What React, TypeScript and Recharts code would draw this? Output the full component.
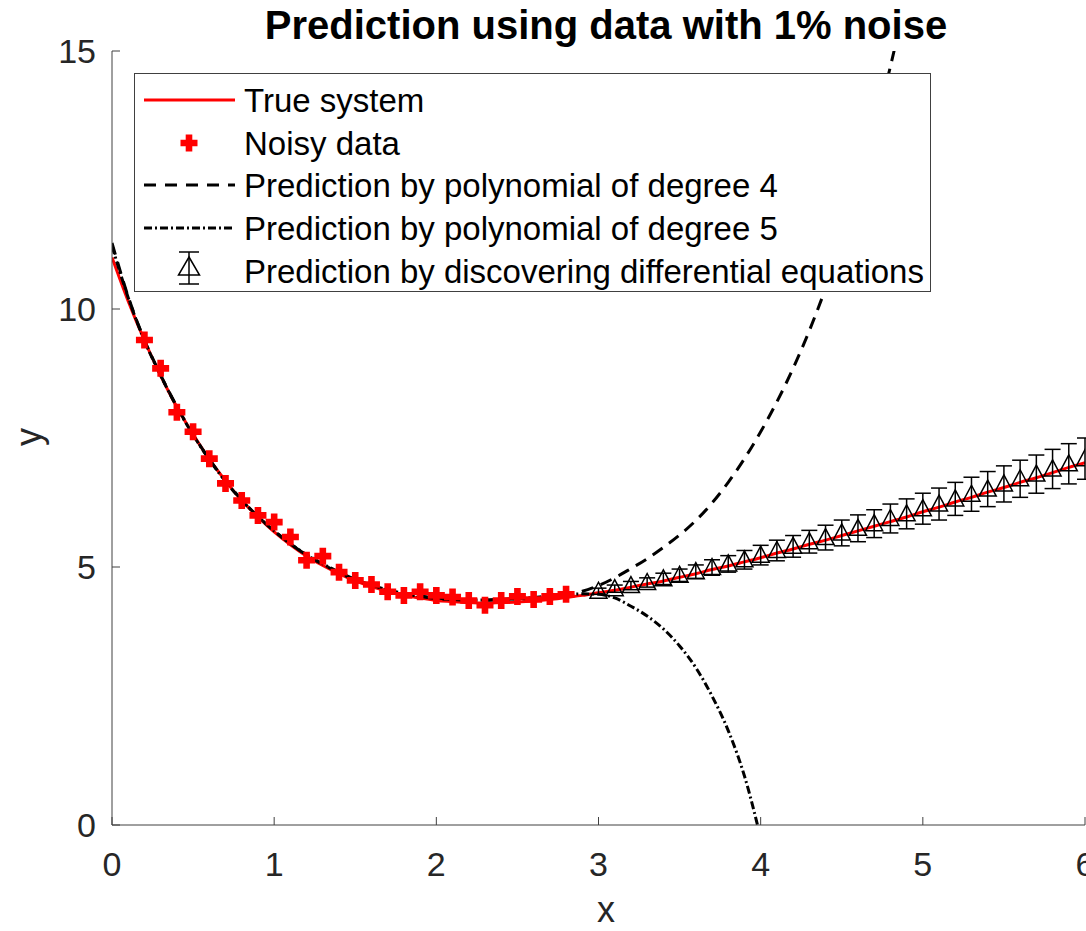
import React from 'react';
import { ComposedChart, Line, Scatter, ErrorBar, XAxis, YAxis } from 'recharts';

const FONT = '"Liberation Sans", Arial, Helvetica, sans-serif';

// x grid, 0 to 6 in steps of 0.1
const xGrid = [
  0, 0.1, 0.2, 0.3, 0.4, 0.5, 0.6, 0.7, 0.8, 0.9,
  1, 1.1, 1.2, 1.3, 1.4, 1.5, 1.6, 1.7, 1.8, 1.9,
  2, 2.1, 2.2, 2.3, 2.4, 2.5, 2.6, 2.7, 2.8, 2.9,
  3, 3.1, 3.2, 3.3, 3.4, 3.5, 3.6, 3.7, 3.8, 3.9,
  4, 4.1, 4.2, 4.3, 4.4, 4.5, 4.6, 4.7, 4.8, 4.9,
  5, 5.1, 5.2, 5.3, 5.4, 5.5, 5.6, 5.7, 5.8, 5.9,
  6,
];

const trueSystem = [
  11.0, 10.15, 9.39, 8.71, 8.1, 7.57, 7.09, 6.67, 6.29, 5.97,
  5.68, 5.43, 5.21, 5.03, 4.87, 4.73, 4.62, 4.53, 4.45, 4.4,
  4.35, 4.33, 4.31, 4.3, 4.31, 4.32, 4.34, 4.37, 4.41, 4.45,
  4.5, 4.55, 4.61, 4.67, 4.73, 4.8, 4.87, 4.95, 5.02, 5.1,
  5.18, 5.27, 5.35, 5.44, 5.52, 5.61, 5.7, 5.79, 5.88, 5.97,
  6.07, 6.16, 6.26, 6.35, 6.45, 6.54, 6.64, 6.73, 6.83, 6.93,
  7.02,
];

// noisy samples at x = 0.2 .. 2.8
const noisyX = xGrid.slice(2, 29);
const noisyY = [
  9.4, 8.85, 8.0, 7.62, 7.1, 6.62, 6.29, 6.0, 5.87, 5.58,
  5.13, 5.21, 4.9, 4.74, 4.66, 4.52, 4.45, 4.52, 4.45, 4.42,
  4.35, 4.26, 4.35, 4.43, 4.37, 4.43, 4.47,
];

// polynomial degree 4, x = 0 .. 4.9
const poly4X = xGrid.slice(0, 50);
const poly4Y = [
  11.28, 10.24, 9.4, 8.72, 8.11, 7.57, 7.09, 6.67, 6.3, 5.98,
  5.7, 5.45, 5.23, 5.05, 4.89, 4.75, 4.64, 4.55, 4.48, 4.43,
  4.39, 4.37, 4.36, 4.36, 4.37, 4.38, 4.4, 4.43, 4.46, 4.53,
  4.64, 4.79, 4.97, 5.16, 5.38, 5.62, 5.9, 6.24, 6.64, 7.1,
  7.62, 8.2, 8.85, 9.58, 10.4, 11.32, 12.33, 13.45, 14.7, 16.08,
];

// polynomial degree 5, x = 0 .. 4.0
const poly5X = xGrid.slice(0, 41);
const poly5Y = [
  11.22, 10.22, 9.39, 8.71, 8.1, 7.56, 7.08, 6.66, 6.29, 5.98,
  5.7, 5.45, 5.24, 5.06, 4.9, 4.76, 4.65, 4.56, 4.49, 4.44,
  4.4, 4.37, 4.36, 4.36, 4.37, 4.39, 4.41, 4.44, 4.46, 4.48,
  4.47, 4.4, 4.24, 4.05, 3.8, 3.47, 3.05, 2.5, 1.83, 0.95,
  -0.25,
];

// discovered differential equation, x = 3.0 .. 6.0
const deX = xGrid.slice(30);
const dePred = [
  4.53, 4.58, 4.64, 4.7, 4.77, 4.84, 4.91, 4.99, 5.06, 5.14,
  5.23, 5.32, 5.4, 5.49, 5.57, 5.66, 5.75, 5.84, 5.94, 6.03,
  6.13, 6.22, 6.32, 6.41, 6.51, 6.61, 6.71, 6.8, 6.9, 7.0,
  7.1,
];
const deErr = [
  0.06, 0.07, 0.08, 0.09, 0.11, 0.12, 0.13, 0.15, 0.16, 0.18,
  0.19, 0.2, 0.21, 0.22, 0.24, 0.25, 0.26, 0.27, 0.28, 0.29,
  0.3, 0.31, 0.32, 0.33, 0.34, 0.35, 0.36, 0.37, 0.38, 0.39,
  0.4,
];

const xTicks = [0, 1, 2, 3, 4, 5, 6];
const yTicks = [0, 5, 10, 15];

const trueData = xGrid.map((x, i) => ({ x, y: trueSystem[i] }));
const noisyData = noisyX.map((x, i) => ({ x, y: noisyY[i] }));
const poly4Data = poly4X.map((x, i) => ({ x, y: poly4Y[i] }));
const poly5Data = poly5X.map((x, i) => ({ x, y: poly5Y[i] }));
const deData = deX.map((x, i) => ({ x, y: dePred[i], err: deErr[i] }));

const plusPath = (cx: number, cy: number, a: number, t: number) =>
  `M${cx - t},${cy - a}h${2 * t}v${a - t}h${a - t}v${2 * t}h${-(a - t)}v${a - t}h${-2 * t}v${-(a - t)}h${-(a - t)}v${-2 * t}h${a - t}z`;

const PlusMarker = (props: any) => {
  const { cx, cy } = props;
  if (cx == null || cy == null) return null;
  return <path d={plusPath(cx, cy, 8.5, 3.3)} fill="#ff0000" />;
};

const TriangleMarker = (props: any) => {
  const { cx, cy } = props;
  if (cx == null || cy == null) return null;
  return (
    <path
      d={`M${cx},${cy - 9}L${cx + 8.5},${cy + 7}L${cx - 8.5},${cy + 7}Z`}
      fill="none"
      stroke="#000"
      strokeWidth={1.5}
    />
  );
};

const tickStyle = { fill: '#262626', fontSize: 34, fontFamily: FONT };
const axisColor = '#404040';
const tickLineStyle = { stroke: axisColor, strokeWidth: 1 };

const Legend = () => (
  <g fontFamily={FONT} fontSize={33} fill="#000">
    <rect x={134.5} y={73.5} width={796} height={218} fill="#fff" stroke={axisColor} strokeWidth={1} />
    <line x1={144} x2={235} y1={100} y2={100} stroke="#ff0000" strokeWidth={3} />
    <text x={244} y={112}>True system</text>
    <path d={plusPath(189, 143, 8.5, 3.3)} fill="#ff0000" />
    <text x={244} y={155}>Noisy data</text>
    <line x1={144} x2={235} y1={185} y2={185} stroke="#000" strokeWidth={3} strokeDasharray="12 9" />
    <text x={244} y={197}>Prediction by polynomial of degree 4</text>
    <line x1={144} x2={235} y1={228} y2={228} stroke="#000" strokeWidth={3} strokeDasharray="8 3 2 3" />
    <text x={244} y={240}>Prediction by polynomial of degree 5</text>
    <g stroke="#000" strokeWidth={1.5} fill="none">
      <line x1={189} x2={189} y1={252} y2={284} />
      <line x1={179} x2={199} y1={252} y2={252} />
      <line x1={179} x2={199} y1={284} y2={284} />
      <path d="M189,257L199.5,275L178.5,275Z" />
    </g>
    <text x={244} y={283}>Prediction by discovering differential equations</text>
  </g>
);

const App: React.FC = () => {
  return (
    <div style={{ position: 'absolute', left: 0, top: 0, width: 1086, height: 931, background: '#fff' }}>
      <ComposedChart width={1086} height={931} margin={{ top: 51, right: 1, bottom: 46, left: 52 }}>
        <XAxis
          type="number"
          dataKey="x"
          domain={[0, 6]}
          ticks={xTicks}
          interval={0}
          allowDataOverflow
          height={60}
          tickSize={-8}
          tickMargin={35}
          stroke={axisColor}
          tickLine={tickLineStyle}
          tick={tickStyle}
        />
        <XAxis
          xAxisId="top"
          orientation="top"
          type="number"
          dataKey="x"
          domain={[0, 6]}
          ticks={xTicks}
          interval={0}
          height={0}
          tickSize={-8}
          tickFormatter={() => ''}
          stroke={axisColor}
          tickLine={tickLineStyle}
        />
        <YAxis
          type="number"
          dataKey="y"
          domain={[0, 15]}
          ticks={yTicks}
          interval={0}
          allowDataOverflow
          width={60}
          tickSize={-8}
          tickMargin={24}
          stroke={axisColor}
          tickLine={tickLineStyle}
          tick={tickStyle}
        />
        <YAxis
          yAxisId="right"
          orientation="right"
          type="number"
          dataKey="y"
          domain={[0, 15]}
          ticks={yTicks}
          interval={0}
          width={0}
          tickSize={-8}
          tickFormatter={() => ''}
          stroke={axisColor}
          tickLine={tickLineStyle}
        />
        <Line
          data={trueData}
          dataKey="y"
          type="monotone"
          stroke="#ff0000"
          strokeWidth={3}
          dot={false}
          isAnimationActive={false}
        />
        <Scatter data={noisyData} dataKey="y" shape={PlusMarker} isAnimationActive={false} />
        <Line
          data={poly4Data}
          dataKey="y"
          type="monotone"
          stroke="#000"
          strokeWidth={3}
          strokeDasharray="12 8"
          dot={false}
          isAnimationActive={false}
        />
        <Line
          data={poly5Data}
          dataKey="y"
          type="monotone"
          stroke="#000"
          strokeWidth={3}
          strokeDasharray="8 3 2 3"
          dot={false}
          isAnimationActive={false}
        />
        <Scatter data={deData} dataKey="y" shape={TriangleMarker} isAnimationActive={false}>
          <ErrorBar dataKey="err" direction="y" width={8} stroke="#000" strokeWidth={1.5} />
        </Scatter>
      </ComposedChart>
      <svg
        width={1086}
        height={931}
        style={{ position: 'absolute', left: 0, top: 0, pointerEvents: 'none' }}
      >
        <text x={606} y={39} textAnchor="middle" fontFamily={FONT} fontSize={40} fontWeight="bold" fill="#000">
          Prediction using data with 1% noise
        </text>
        <text x={606} y={922} textAnchor="middle" fontFamily={FONT} fontSize={36} fill="#262626">
          x
        </text>
        <text
          x={41}
          y={437}
          textAnchor="middle"
          fontFamily={FONT}
          fontSize={36}
          fill="#262626"
          transform="rotate(-90, 41, 437)"
        >
          y
        </text>
        <Legend />
      </svg>
    </div>
  );
};

export default App;
